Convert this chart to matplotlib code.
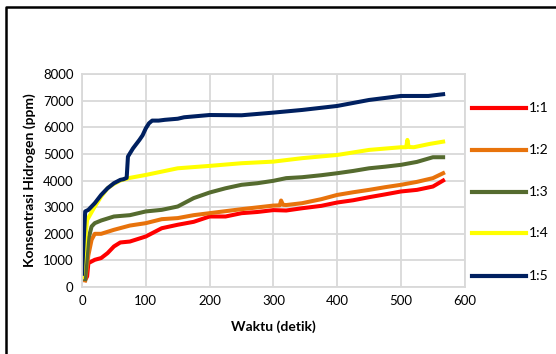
import matplotlib
matplotlib.use("Agg")
import matplotlib.pyplot as plt
from matplotlib.lines import Line2D

plt.rcParams['font.family'] = ['Lato', 'DejaVu Sans']

# data (waktu in detik, konsentrasi in ppm)
t_11 = [5, 8, 10, 20, 30, 40, 50, 60, 75, 100, 125, 150, 175, 200, 225, 250, 275, 300,
        320, 345, 375, 400, 425, 450, 475, 500, 525, 550, 566]
h_11 = [275, 400, 900, 1025, 1090, 1275, 1525, 1675, 1710, 1900, 2210, 2340, 2450, 2650,
        2650, 2775, 2820, 2890, 2875, 2960, 3050, 3175, 3260, 3375, 3480, 3590, 3650, 3775, 4000]

t_12 = [5, 10, 15, 20, 30, 50, 75, 100, 125, 150, 175, 200, 250, 300, 310, 312, 315,
        320, 345, 375, 400, 425, 450, 475, 500, 525, 550, 566]
h_12 = [250, 1200, 1775, 2000, 2000, 2150, 2310, 2400, 2550, 2590, 2700, 2775, 2925, 3060,
        3070, 3250, 3090, 3080, 3150, 3300, 3460, 3560, 3650, 3750, 3840, 3950, 4090, 4275]

t_13 = [5, 10, 15, 20, 30, 50, 75, 100, 125, 150, 175, 200, 225, 250, 275, 300, 320, 345,
        375, 400, 425, 450, 475, 500, 525, 550, 566]
h_13 = [300, 1800, 2275, 2400, 2500, 2650, 2700, 2840, 2900, 3025, 3340, 3550, 3710, 3840,
        3900, 3990, 4090, 4125, 4200, 4275, 4360, 4460, 4520, 4590, 4700, 4875, 4875]

t_14 = [0, 5, 8, 10, 20, 30, 40, 50, 60, 75, 100, 150, 200, 250, 300, 345, 400, 450,
        500, 508, 510, 512, 520, 545, 566]
h_14 = [375, 1800, 2525, 2600, 3025, 3400, 3710, 3875, 4000, 4100, 4210, 4460, 4550, 4650,
        4710, 4840, 4960, 5150, 5250, 5250, 5525, 5260, 5250, 5375, 5460]

t_15 = [0, 5, 10, 20, 30, 40, 50, 60, 65, 70, 72, 80, 90, 95, 100, 105, 110, 120, 130,
        150, 160, 200, 250, 300, 345, 400, 450, 500, 543, 566]
h_15 = [500, 2840, 2900, 3150, 3460, 3710, 3900, 4025, 4050, 4100, 4900, 5210, 5525, 5700,
        5960, 6150, 6250, 6250, 6280, 6320, 6375, 6460, 6450, 6550, 6650, 6800, 7025, 7175,
        7175, 7240]

series = [
    ("1:1", t_11, h_11, "#ff0000"),
    ("1:2", t_12, h_12, "#e8730c"),
    ("1:3", t_13, h_13, "#556b2f"),
    ("1:4", t_14, h_14, "#ffff00"),
    ("1:5", t_15, h_15, "#002060"),
]

fig = plt.figure(figsize=(5.56, 3.54), dpi=100)
ax = fig.add_axes([0.1475, 0.189, 0.6885, 0.602])

for label, t, h, col in series:
    ax.plot(t, h, color=col, lw=2.9, label=label, solid_joinstyle="round")

ax.set_xlim(0, 600)
ax.set_ylim(0, 8000)
ax.set_xticks(range(0, 601, 100))
ax.set_yticks(range(0, 8001, 1000))
ax.grid(True, color="#d9d9d9", lw=1.3)
ax.set_axisbelow(True)
for s in ax.spines.values():
    s.set_color("#d9d9d9")
    s.set_linewidth(1.3)
ax.tick_params(length=0, labelsize=9.5, pad=6, colors="black")

ax.set_xlabel("Waktu (detik)", fontsize=10, fontweight="bold", labelpad=9)
ax.set_ylabel("Konsentrasi Hidrogen (ppm)", fontsize=10, fontweight="bold", labelpad=5)

# legend on the right, widely spaced entries
leg_y = [108, 150, 192, 233, 276]
for (label, t, h, col), yp in zip(series, leg_y):
    fy = 1 - yp / 354
    fig.add_artist(Line2D([472 / 556, 526 / 556], [fy, fy], color=col, lw=3))
    fig.text(529 / 556, fy, label, fontsize=10, va="center", ha="left")

# outer frame (top and left edges visible)
fig.add_artist(Line2D([6 / 556, 6 / 556, 1.0], [0.0, 1 - 7 / 354, 1 - 7 / 354],
                      color="black", lw=1.8))

fig.savefig("out.png", dpi=100)
